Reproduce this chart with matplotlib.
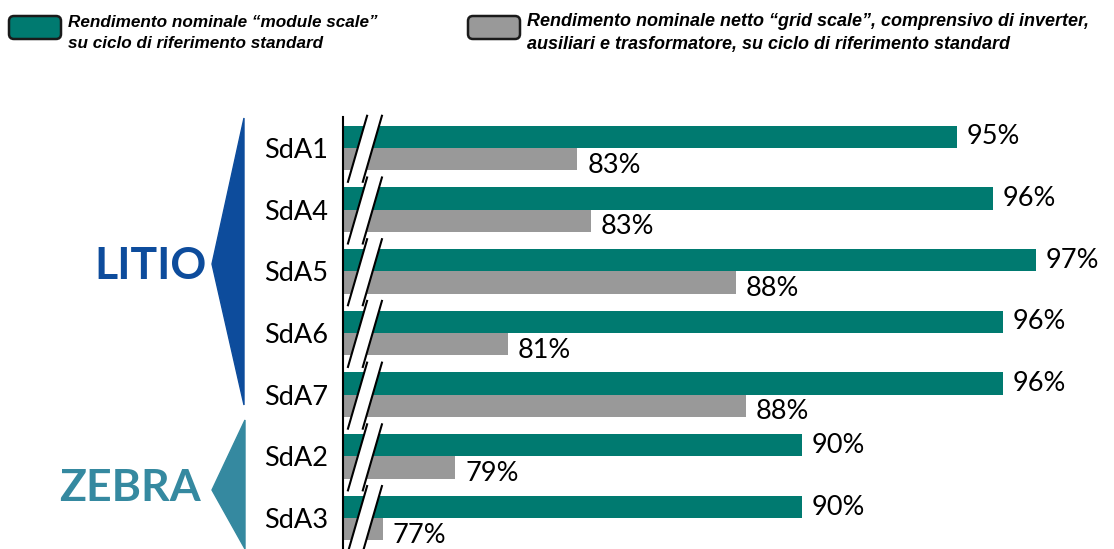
import numpy as np
import matplotlib
matplotlib.use("Agg")
import matplotlib.pyplot as plt
from matplotlib.patches import Polygon, FancyBboxPatch

# data
categories = ["SdA1", "SdA4", "SdA5", "SdA6", "SdA7", "SdA2", "SdA3"]
module_vals = [94.6, 95.7, 97.0, 96.0, 96.0, 89.9, 89.9]
grid_vals = [83.1, 83.5, 87.9, 81.0, 88.2, 79.4, 77.2]
module_lbl = ["95%", "96%", "97%", "96%", "96%", "90%", "90%"]
grid_lbl = ["83%", "83%", "88%", "81%", "88%", "79%", "77%"]
legend_txt = ["Rendimento nominale \u201cmodule scale\u201d\nsu ciclo di riferimento standard",
              "Rendimento nominale netto \u201cgrid scale\u201d, comprensivo di inverter,\nausiliari e trasformatore, su ciclo di riferimento standard"]

TEAL = "#007A70"
GREY = "#999999"
BLUE = "#0D4C9C"
ZTEAL = "#3589A0"

W, H = 1114, 549
fig = plt.figure(figsize=(W / 100, H / 100), dpi=100)

x0 = 76.0
ax = fig.add_axes([343 / W, 0, 1 - 343 / W, 1 - 117 / H])
y = np.arange(len(categories))
h = 0.36
ax.barh(y - h / 2, np.array(module_vals) - x0, left=x0, height=h, color=TEAL)
ax.barh(y + h / 2, np.array(grid_vals) - x0, left=x0, height=h, color=GREY)
ax.set_xlim(x0, x0 + (W - 343) / 33)
ax.set_ylim(len(categories) - 0.5, -0.5)
for s in ["top", "right", "bottom"]:
    ax.spines[s].set_visible(False)
ax.spines["left"].set_linewidth(1.5)
ax.set_xticks([])
ax.set_yticks(y)
ax.set_yticklabels(categories, fontsize=19.5, family="Lato")
ax.tick_params(axis="y", length=0, pad=11)

for i in range(len(categories)):
    ax.text(module_vals[i] + 0.3, i - h / 2, module_lbl[i], va="center", ha="left",
            fontsize=19.5, family="Lato")
    ax.text(grid_vals[i] + 0.3, i + h / 2 + 0.1, grid_lbl[i], va="center", ha="left",
            fontsize=19.5, family="Lato")
    # axis break marks
    yt, yb = i - 0.52, i + 0.55
    l1 = [(76.73, yt), (76.15, yb)]
    l2 = [(77.18, yt), (76.60, yb)]
    ax.add_patch(Polygon([l1[0], l2[0], l2[1], l1[1]], closed=True, facecolor="white",
                         edgecolor="none", zorder=3, clip_on=False))
    ax.plot(*zip(*l1), color="black", lw=1.5, zorder=4, clip_on=False)
    ax.plot(*zip(*l2), color="black", lw=1.5, zorder=4, clip_on=False)

# group arrows and labels
over = fig.add_axes([0, 0, 1, 1])
over.set_xlim(0, W)
over.set_ylim(H, 0)
over.axis("off")
over.add_patch(Polygon([(244, 118), (244, 405), (212, 264)], closed=True, color=BLUE))
over.add_patch(Polygon([(245, 420), (245, 549), (212, 490)], closed=True, color=ZTEAL))
over.text(207, 266, "LITIO", ha="right", va="center", fontsize=32, fontweight="bold",
          color=BLUE, family="Lato")
over.text(201, 488, "ZEBRA", ha="right", va="center", fontsize=32, fontweight="bold",
          color=ZTEAL, family="Lato")

# legend
for bx, col, txt, fs in [(9, TEAL, legend_txt[0], 12.3), (468, GREY, legend_txt[1], 13)]:
    over.add_patch(FancyBboxPatch((bx, 16), 52, 23, boxstyle="round,pad=0,rounding_size=5",
                                  facecolor=col, edgecolor="#1a1a1a", lw=1.8))
    over.text(bx + 59, 33, txt, ha="left", va="center", fontsize=fs, fontweight="bold",
              style="italic", family="Liberation Sans", linespacing=1.45)

fig.savefig("out.png", dpi=100)
